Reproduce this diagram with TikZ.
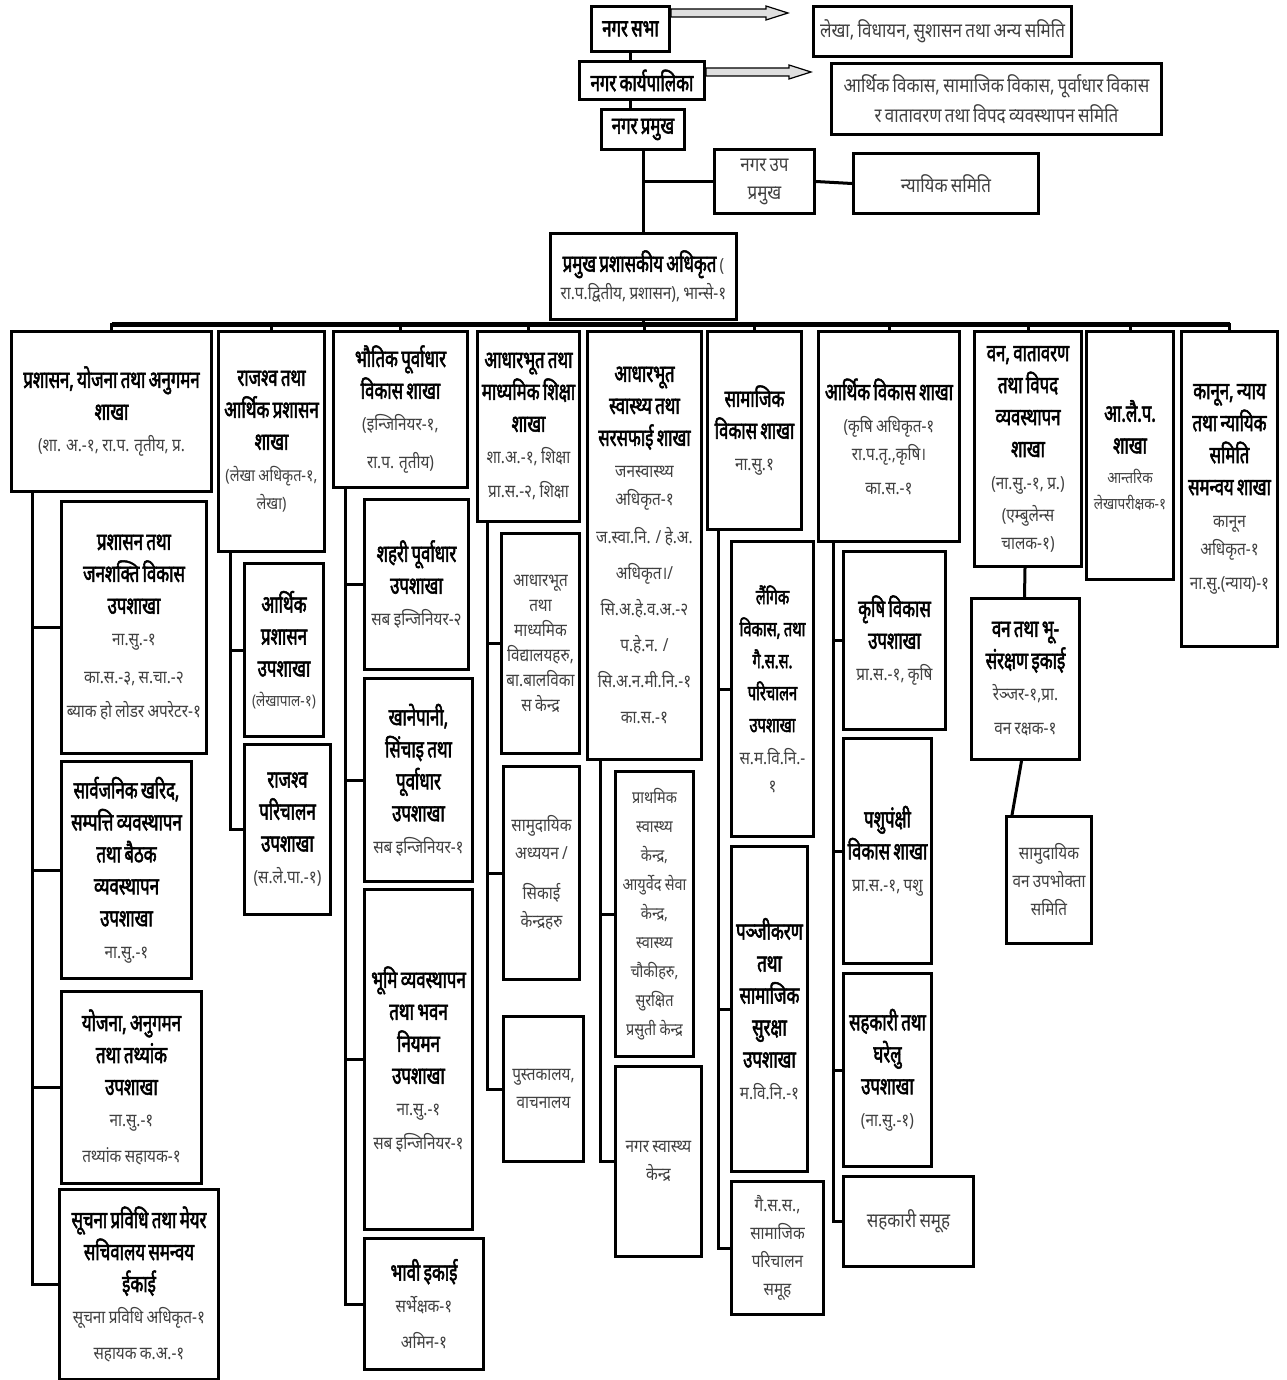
\documentclass[tikz,border=0pt]{standalone}
\usepackage{fontspec}
\usetikzlibrary{calc}
\newfontfamily\devt[Script=Devanagari,FakeStretch=0.7,FakeBold=2.2]{Noto Sans}
\newfontfamily\devs[Script=Devanagari,FakeStretch=0.85]{Noto Sans}
\newcommand{\tf}{\devt\fontsize{24}{32}\selectfont}
\newcommand{\smf}{\devs\fontsize{18}{28}\selectfont\color{black!75}}
\newcommand{\TT}[1]{{\tf #1\par}\vspace{4pt}}
\tikzset{
  box/.style={draw, line width=3pt, inner sep=2pt, align=center, anchor=north west, fill=white},
  conn/.style={line width=3pt, line cap=rect},
  busline/.style={line width=5pt},
}
\newcommand{\bx}[7][]{%
  \pgfmathsetmacro{\bw}{#5-#3}\pgfmathsetmacro{\bh}{#6-#4}\pgfmathsetmacro{\tw}{#5-#3-8}%
  \node[box,minimum width=\bw pt,minimum height=\bh pt,text width=\tw pt,#1] (#2) at (#3,#4) {#7\par};}
\newcommand{\harrow}[2]{%
  \draw[line width=1.2pt, fill=gray!25] ($(#1)+(0,-4)$) -- ++({#2-22},0) -- ++(0,-3) -- ++(22,7) -- ++(-22,7) -- ++(0,-3) -- ++({-(#2-22)},0) -- cycle;}
\begin{document}
\begin{tikzpicture}[x=1pt,y=-1pt]
\useasboundingbox[fill=white] (0,0) rectangle (1286,1380);
% top
\bx{sabha}{590}{5}{668}{50}{\tf नगर सभा}
\bx{com1}{812}{5}{1070}{55}{\smf\fontsize{20}{28}\selectfont लेखा, विधायन, सुशासन तथा अन्य समिति}
\bx{kary}{578}{60}{703}{98}{\tf नगर कार्यपालिका}
\bx{com2}{830}{62}{1160}{133}{\smf\fontsize{20}{30}\selectfont आर्थिक विकास, सामाजिक विकास, पूर्वाधार विकास\\र वातावरण तथा विपद व्यवस्थापन समिति}
\bx{pram}{600}{108}{683}{148}{\tf नगर प्रमुख}
\bx{upa}{713}{148}{813}{212}{\smf\fontsize{20}{28}\selectfont नगर उप\\प्रमुख}
\bx{nyay}{852}{152}{1037}{212}{\smf\fontsize{20}{28}\selectfont न्यायिक समिति}
\bx{ppa}{549}{232}{735}{318}{{\tf प्रमुख प्रशासकीय अधिकृत {\smf (}\par}\smf रा.प.द्वितीय, प्रशासन), भान्से-१}
% branches
\bx{B1}{10}{330}{210}{490}{\TT{प्रशासन, योजना तथा अनुगमन\\शाखा}\smf (शा. अ.-१, रा.प. तृतीय, प्र.}
\bx{B2}{217}{330}{323}{550}{\TT{राजश्व तथा\\आर्थिक प्रशासन\\शाखा}\smf\fontsize{17}{28}\selectfont (लेखा अधिकृत-१,\\लेखा)}
\bx{B3}{332}{330}{466}{486}{\TT{भौतिक पूर्वाधार\\विकास शाखा}\smf (इन्जिनियर-१,\\[10pt]रा.प. तृतीय)}
\bx{B4}{476}{330}{578}{520}{\TT{आधारभूत तथा\\माध्यमिक शिक्षा\\शाखा}\smf शा.अ.-१, शिक्षा\\[6pt]प्रा.स.-२, शिक्षा}
\bx{B5}{586}{330}{700}{758}{\TT{आधारभूत\\स्वास्थ्य तथा\\सरसफाई शाखा}\smf जनस्वास्थ्य\\अधिकृत-१\\[10pt]ज.स्वा.नि. / हे.अ.\\[8pt]अधिकृत।/\\[8pt]सि.अ.हे.व.अ.-२\\[8pt]प.हे.न. /\\[8pt]सि.अ.न.मी.नि.-१\\[8pt]का.स.-१}
\bx{B6}{706}{330}{800}{528}{\TT{सामाजिक\\विकास शाखा}\smf ना.सु.१}
\bx{B7}{817}{330}{958}{540}{\TT{आर्थिक विकास शाखा}\smf (कृषि अधिकृत-१\\रा.प.तृ.,कृषि।\\[6pt]का.स.-१}
\bx{B8}{973}{330}{1080}{565}{\TT{वन, वातावरण\\तथा विपद\\व्यवस्थापन\\शाखा}\smf (ना.सु.-१, प्र.)\\[4pt](एम्बुलेन्स\\चालक-१)}
\bx{B9}{1085}{330}{1172}{578}{\TT{आ.लै.प.\\शाखा}\smf\fontsize{16}{26}\selectfont आन्तरिक\\लेखापरीक्षक-१}
\bx{B10}{1180}{330}{1276}{645}{\TT{कानून, न्याय\\तथा न्यायिक\\समिति\\समन्वय शाखा}\smf कानून\\अधिकृत-१\\[6pt]ना.सु.(न्याय)-१}
% sub-branches
\bx{C1a}{60}{500}{205}{752}{\TT{प्रशासन तथा\\जनशक्ति विकास\\उपशाखा}\smf ना.सु.-१\\[10pt]का.स.-३, स.चा.-२\\[6pt]ब्याक हो लोडर अपरेटर-१}
\bx{C1b}{60}{760}{190}{977}{\TT{सार्वजनिक खरिद,\\सम्पत्ति व्यवस्थापन\\तथा बैठक\\व्यवस्थापन\\उपशाखा}\smf ना.सु.-१}
\bx{C1c}{60}{990}{200}{1182}{\TT{योजना, अनुगमन\\तथा तथ्यांक\\उपशाखा}\smf ना.सु.-१\\[8pt]तथ्यांक सहायक-१}
\bx{C1d}{58}{1188}{217}{1378}{\TT{सूचना प्रविधि तथा मेयर\\सचिवालय समन्वय\\ईकाई}\smf सूचना प्रविधि अधिकृत-१\\[8pt]सहायक क.अ.-१}
\bx{C2a}{243}{562}{322}{735}{\TT{आर्थिक\\प्रशासन\\उपशाखा}\smf\fontsize{16}{26}\selectfont (लेखापाल-१)}
\bx{C2b}{243}{743}{329}{913}{\TT{राजश्व\\परिचालन\\उपशाखा}\smf (स.ले.पा.-१)}
\bx{C3a}{363}{498}{467}{668}{\TT{शहरी पूर्वाधार\\उपशाखा}\smf सब इन्जिनियर-२}
\bx{C3b}{363}{677}{471}{880}{\TT{खानेपानी,\\सिंचाइ तथा\\पूर्वाधार\\उपशाखा}\smf सब इन्जिनियर-१}
\bx{C3c}{363}{888}{471}{1228}{\TT{भूमि व्यवस्थापन\\तथा भवन\\नियमन\\उपशाखा}\smf ना.सु.-१\\[6pt]सब इन्जिनियर-१}
\bx{C3d}{363}{1237}{482}{1368}{\TT{भावी इकाई}\smf सर्भेक्षक-१\\[8pt]अमिन-१}
\bx{C4a}{500}{532}{578}{752}{\smf\fontsize{18}{25}\selectfont आधारभूत\\तथा\\माध्यमिक\\विद्यालयहरु,\\बा.बालविका\\स केन्द्र}
\bx{C4b}{502}{765}{578}{978}{\smf सामुदायिक\\अध्ययन /\\[12pt]सिकाई\\केन्द्रहरु}
\bx{C4c}{502}{1015}{582}{1160}{\smf पुस्तकालय,\\वाचनालय}
\bx{C5a}{614}{770}{692}{1055}{\smf\fontsize{17}{29}\selectfont प्राथमिक\\स्वास्थ्य\\केन्द्र,\\आयुर्वेद सेवा\\केन्द्र,\\स्वास्थ्य\\चौकीहरु,\\सुरक्षित\\प्रसुती केन्द्र}
\bx{C5b}{614}{1065}{700}{1255}{\smf नगर स्वास्थ्य\\केन्द्र}
\bx{C6a}{730}{540}{812}{835}{{\tf\fontsize{21}{32}\selectfont लैंगिक\\विकास, तथा\\गै.स.स.\\परिचालन\\उपशाखा\par}\vspace{4pt}\smf स.म.वि.नि.-\\१}
\bx{C6b}{730}{845}{806}{1170}{\TT{पञ्जीकरण\\तथा\\सामाजिक\\सुरक्षा\\उपशाखा}\smf म.वि.नि.-१}
\bx{C6c}{730}{1180}{822}{1313}{\smf गै.स.स.,\\सामाजिक\\परिचालन\\समूह}
\bx{C7a}{842}{550}{944}{728}{\TT{कृषि विकास\\उपशाखा}\smf प्रा.स.-१, कृषि}
\bx{C7b}{842}{737}{930}{962}{\TT{पशुपंक्षी\\विकास शाखा}\smf प्रा.स.-१, पशु}
\bx{C7c}{842}{972}{930}{1165}{\TT{सहकारी तथा\\घरेलु\\उपशाखा}\smf (ना.सु.-१)}
\bx{C7d}{842}{1175}{972}{1265}{\smf\fontsize{20}{28}\selectfont सहकारी समूह}
\bx{C8a}{970}{597}{1078}{758}{\TT{वन तथा भू-\\संरक्षण इकाई}\smf रेञ्जर-१,प्रा.\\[6pt]वन रक्षक-१}
\bx{C8b}{1005}{815}{1090}{942}{\smf सामुदायिक\\वन उपभोक्ता\\समिति}
% arrows
\harrow{$(sabha.north east)+(0,8)$}{117}
\harrow{$(kary.north east)+(0,12)$}{105}
% top connectors
\draw[conn] (sabha.south) -- (sabha.south |- kary.north);
\draw[conn] (sabha.south |- kary.south) -- (sabha.south |- pram.north);
\draw[conn] (pram.south) -- (pram.south |- ppa.north);
\draw[conn] (pram.south |- upa.west) -- (upa.west);
\draw[conn] (upa.east) -- (nyay.west);
\draw[conn] (ppa.south) -- (ppa.south |- 0,324);
\draw[busline] (B1.north |- 0,324) -- (B10.north |- 0,324);
\foreach \b in {B1,B2,B3,B4,B5,B6,B7,B8,B9,B10}{\draw[conn] (\b.north |- 0,324) -- (\b.north);}
% trunks
\coordinate (t1) at (32,0);
\coordinate (t2) at (230,0);
\coordinate (t3) at (345,0);
\coordinate (t4) at (487,0);
\coordinate (t5) at (600,0);
\coordinate (t6) at (718,0);
\coordinate (t7) at (833,0);
\draw[conn] (t1 |- B1.south) |- (C1d.west);
\foreach \c in {C1a,C1b,C1c}{\draw[conn] (t1 |- \c.west) -- (\c.west);}
\draw[conn] (t2 |- B2.south) |- (C2b.west);
\draw[conn] (t2 |- C2a.west) -- (C2a.west);
\draw[conn] (t3 |- B3.south) |- (C3d.west);
\foreach \c in {C3a,C3b,C3c}{\draw[conn] (t3 |- \c.west) -- (\c.west);}
\draw[conn] (t4 |- B4.south) |- (C4c.west);
\foreach \c in {C4a,C4b}{\draw[conn] (t4 |- \c.west) -- (\c.west);}
\draw[conn] (t5 |- B5.south) |- (C5b.west);
\draw[conn] (t5 |- C5a.west) -- (C5a.west);
\draw[conn] (t6 |- B6.south) |- (C6c.west);
\foreach \c in {C6a,C6b}{\draw[conn] (t6 |- \c.west) -- (\c.west);}
\draw[conn] (t7 |- B7.south) |- (C7d.west);
\foreach \c in {C7a,C7b,C7c}{\draw[conn] (t7 |- \c.west) -- (\c.west);}
\draw[conn] ($(B8.south)+(-3,0)$) -- ($(C8a.north)+(-1,0)$);
\draw[conn] ($(C8a.south)+(-4,0)$) -- ($(C8b.north west)+(7,0)$);
\end{tikzpicture}
\end{document}
